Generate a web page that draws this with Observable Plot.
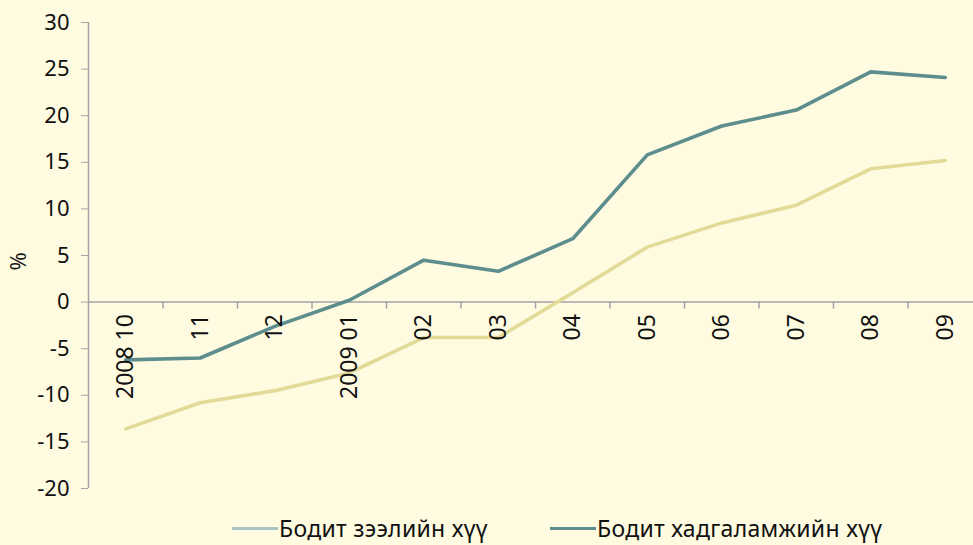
<!DOCTYPE html>
<html>
<head>
<meta charset="utf-8">
<script src="https://cdn.jsdelivr.net/npm/d3@7"></script>
<script src="https://cdn.jsdelivr.net/npm/@observablehq/plot@0.6"></script>
<style>
  html, body { margin: 0; padding: 0; background: #fefbe1; }
  body { width: 973px; height: 545px; overflow: hidden; font-family: "Noto Sans", sans-serif; }
  #legend { position: relative; height: 35px; font-size: 23px; color: #111; }
  .item { position: absolute; top: 2px; display: flex; align-items: center; white-space: nowrap; letter-spacing: 0.3px; }
  .sw { display: inline-block; width: 46px; height: 3px; margin-right: 1px; }
</style>
</head>
<body>
<div id="chart"></div>
<div id="legend"></div>
<script>
const categories = ["2008 10", "11", "12", "2009 01", "02", "03", "04", "05", "06", "07", "08", "09"];
const loanRate = [-13.6, -10.8, -9.5, -7.6, -3.8, -3.8, 1.0, 5.9, 8.5, 10.4, 14.3, 15.2];
const depositRate = [-6.2, -6.0, -2.6, 0.2, 4.5, 3.3, 6.8, 15.8, 18.9, 20.6, 24.7, 24.1];
const yTicks = [-20, -15, -10, -5, 0, 5, 10, 15, 20, 25, 30];
const seriesNames = ["Бодит зээлийн хүү", "Бодит хадгаламжийн хүү"];
const yLabel = "%";
const lineColors = ["#e2da97", "#5d8d8d"];
const legendColors = ["#a9c4c4", "#5d8d8d"];

const idx = categories.map((_, i) => i);
const bounds = categories.map((_, i) => i + 0.5);
const loanData = idx.map(i => ({i, v: loanRate[i]}));
const depData = idx.map(i => ({i, v: depositRate[i]}));

const axisGray = "#a3a3a8";
const chart = Plot.plot({
  width: 973,
  height: 510,
  marginLeft: 88,
  marginTop: 22,
  marginBottom: 22,
  marginRight: 0,
  style: { background: "transparent", fontFamily: "Noto Sans, sans-serif", fontSize: "22px", color: "#111" },
  x: { type: "linear", domain: [-0.5, 11.5], range: [88, 982], axis: null },
  y: { domain: [-20, 30], ticks: yTicks, axis: null },
  marks: [
    Plot.axisY({ ticks: yTicks, tickFormat: d => String(d), tickSize: 7, tickPadding: 12, stroke: axisGray, fontSize: 22, fill: "#111", label: null }),
    Plot.text([yLabel], { frameAnchor: "left", text: d => d, rotate: -90, dx: -70, dy: 15, fontSize: 22, fill: "#111" }),
    Plot.ruleX([-0.5], { y1: -20, y2: 30, stroke: axisGray, strokeWidth: 1.5 }),
    Plot.ruleY([0], { x1: -0.5, x2: 11.5, stroke: axisGray, strokeWidth: 1.5 }),
    Plot.ruleX(bounds, { x: d => d, y1: 0, y2: 0, insetBottom: -7, stroke: axisGray, strokeWidth: 1.5 }),
    Plot.line(loanData, { x: "i", y: "v", stroke: lineColors[0], strokeWidth: 3.6 }),
    Plot.line(depData, { x: "i", y: "v", stroke: lineColors[1], strokeWidth: 3.6 }),
    Plot.text(categories, { x: (d, i) => i, y: 0, text: d => d, rotate: -90, textAnchor: "end", dy: 12, fontSize: 23, fill: "#111" })
  ]
});
document.getElementById("chart").appendChild(chart);

const legend = document.getElementById("legend");
const lefts = [232, 550];
seriesNames.forEach((name, k) => {
  const item = document.createElement("div");
  item.className = "item";
  item.style.left = lefts[k] + "px";
  const sw = document.createElement("span");
  sw.className = "sw";
  sw.style.background = legendColors[k];
  item.appendChild(sw);
  item.appendChild(document.createTextNode(name));
  legend.appendChild(item);
});
</script>
</body>
</html>
